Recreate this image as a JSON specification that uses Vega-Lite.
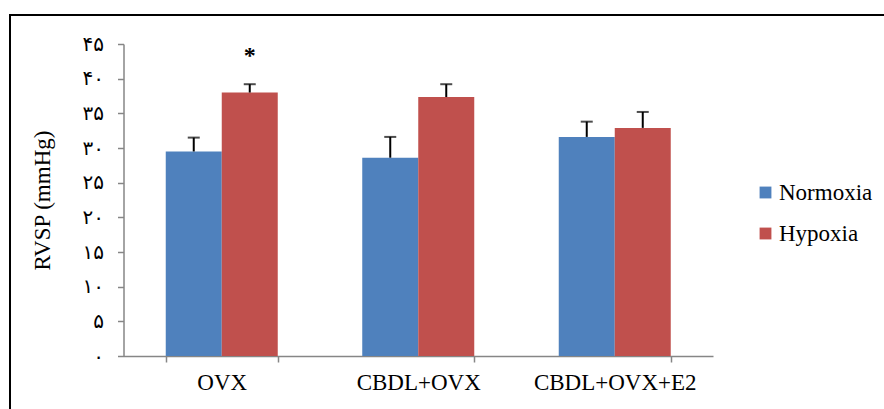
{
  "$schema": "https://vega.github.io/schema/vega-lite/v6.json",
  "autosize": "none",
  "padding": {"left": 10, "top": 15, "right": 0, "bottom": 0},
  "width": 880,
  "height": 400,
  "background": "white",
  "config": {
    "view": {"stroke": "black", "strokeWidth": 2},
    "font": "Liberation Serif"
  },
  "data": {
    "values": [
      {"group": "OVX", "condition": "Normoxia", "rvsp": 29.5, "upper": 31.5},
      {"group": "OVX", "condition": "Hypoxia", "rvsp": 38.0, "upper": 39.2},
      {"group": "CBDL+OVX", "condition": "Normoxia", "rvsp": 28.6, "upper": 31.6},
      {"group": "CBDL+OVX", "condition": "Hypoxia", "rvsp": 37.35, "upper": 39.2},
      {"group": "CBDL+OVX+E2", "condition": "Normoxia", "rvsp": 31.6, "upper": 33.8},
      {"group": "CBDL+OVX+E2", "condition": "Hypoxia", "rvsp": 32.9, "upper": 35.2}
    ]
  },
  "encoding": {
    "x": {
      "field": "group",
      "type": "nominal",
      "sort": ["OVX", "CBDL+OVX", "CBDL+OVX+E2"],
      "scale": {"range": [113.5, 703], "paddingInner": 0.43, "paddingOuter": 0.215},
      "axis": {
        "title": null,
        "labelAngle": 0,
        "labelFont": "Liberation Serif",
        "labelFontSize": 23,
        "labelColor": "black",
        "labelPadding": 9,
        "domainColor": "#868686",
        "domainWidth": 1.5,
        "tickColor": "#868686",
        "tickWidth": 1.5,
        "tickSize": 6,
        "tickBand": "extent",
        "offset": -59
      }
    },
    "xOffset": {
      "field": "condition",
      "type": "nominal",
      "sort": ["Normoxia", "Hypoxia"],
      "scale": {"paddingInner": 0, "paddingOuter": 0}
    }
  },
  "layer": [
    {
      "mark": {"type": "bar"},
      "encoding": {
        "y": {
          "field": "rvsp",
          "type": "quantitative",
          "scale": {"domain": [0, 45], "range": [341, 29], "nice": false, "zero": true},
          "axis": {
            "title": "RVSP (mmHg)",
            "titleFont": "Liberation Serif",
            "titleFontSize": 23,
            "titleFontWeight": "normal",
            "titleColor": "black",
            "titlePadding": 28,
            "values": [0, 5, 10, 15, 20, 25, 30, 35, 40, 45],
            "labelExpr": "['۰','۵','۱۰','۱۵','۲۰','۲۵','۳۰','۳۵','۴۰','۴۵'][round(datum.value/5)]",
            "labelFont": "DejaVu Sans",
            "labelFontSize": 20,
            "labelColor": "black",
            "labelPadding": 14,
            "grid": false,
            "domainColor": "#868686",
            "domainWidth": 1.5,
            "tickColor": "#868686",
            "tickWidth": 1.5,
            "tickSize": 6,
            "offset": -113.5
          }
        },
        "color": {
          "field": "condition",
          "type": "nominal",
          "sort": ["Normoxia", "Hypoxia"],
          "scale": {"domain": ["Normoxia", "Hypoxia"], "range": ["#4F81BD", "#C0504D"]},
          "legend": {
            "title": null,
            "orient": "none",
            "legendX": 744,
            "legendY": 166,
            "padding": 0,
            "symbolType": "square",
            "symbolSize": 140,
            "symbolStrokeWidth": 0,
            "labelFont": "Liberation Serif",
            "labelFontSize": 23,
            "labelColor": "black",
            "labelOffset": 2,
            "rowPadding": 17
          }
        }
      }
    },
    {
      "mark": {"type": "rule", "color": "black", "strokeWidth": 2},
      "encoding": {
        "y": {"field": "rvsp", "type": "quantitative"},
        "y2": {"field": "upper"}
      }
    },
    {
      "mark": {"type": "tick", "color": "black", "thickness": 2, "size": 12, "orient": "horizontal"},
      "encoding": {
        "y": {"field": "upper", "type": "quantitative"}
      }
    },
    {
      "transform": [{"filter": "datum.group === 'OVX' && datum.condition === 'Hypoxia'"}],
      "mark": {"type": "text", "text": "*", "font": "Liberation Serif", "fontSize": 24, "fontWeight": "bold", "baseline": "alphabetic", "align": "center", "color": "black"},
      "encoding": {
        "y": {"datum": 42.2, "type": "quantitative"}
      }
    }
  ]
}
